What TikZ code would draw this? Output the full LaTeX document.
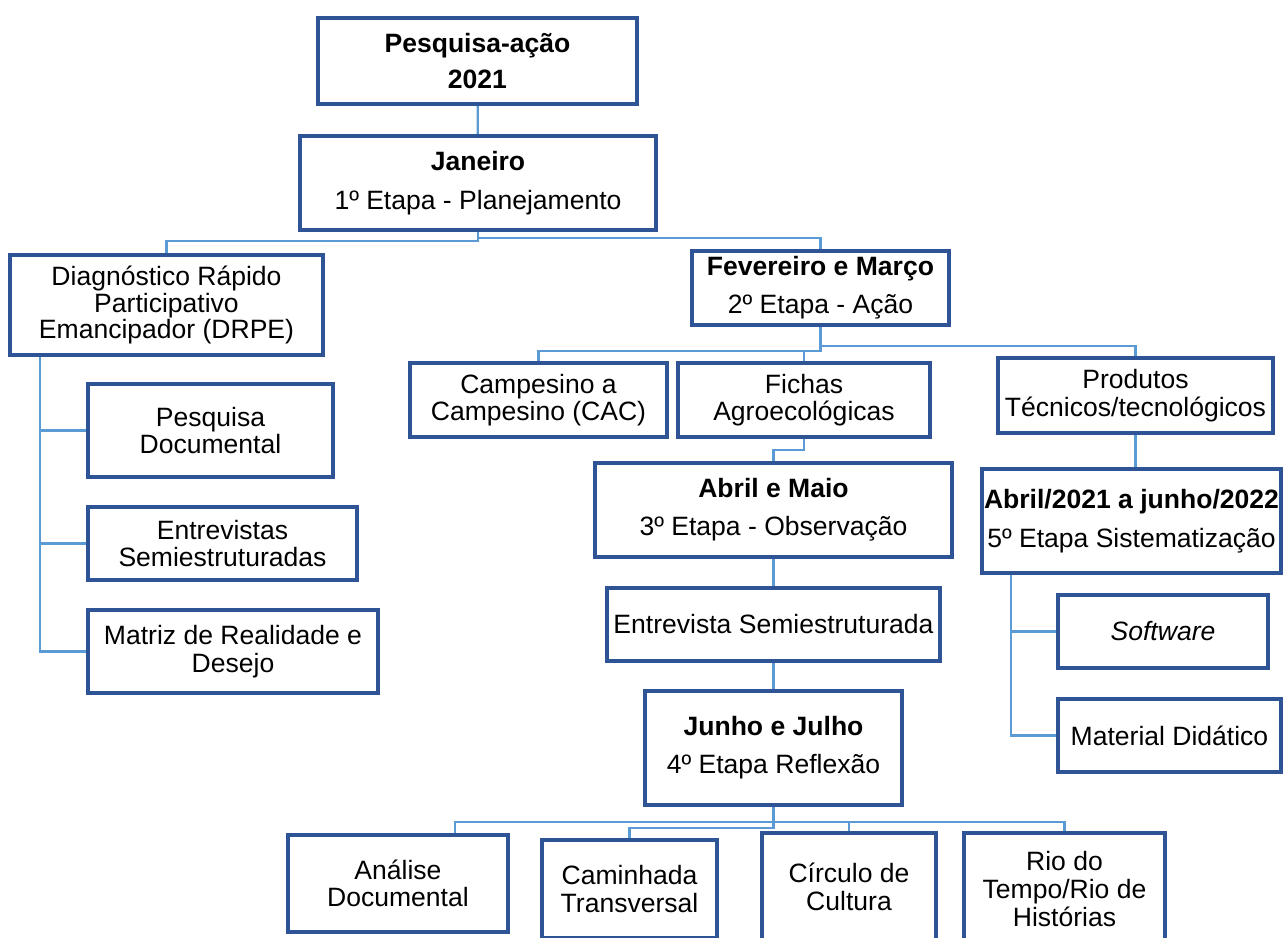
\documentclass[tikz,border=0pt]{standalone}
\usepackage{fontspec}
\setmainfont{Liberation Sans}
\usepackage{tikz}
\usetikzlibrary{backgrounds}
\definecolor{borda}{RGB}{47,84,150}
\definecolor{linha}{RGB}{91,155,213}

\begin{document}
\begin{tikzpicture}[x=0.75pt,y=-0.75pt,
  caixa/.style 2 args={draw=borda,line width=2.6pt,fill=white,align=center,inner sep=1pt,
    minimum width=#1*0.75pt,minimum height=#2*0.75pt},
  liga/.style={draw=linha,line width=1.6pt},
  font=\fontsize{19.9}{20.7}\selectfont]
\clip (0,0) rectangle (1283,938);
\node[caixa={319}{86}] (topo) at (477.5,61) {\textbf{Pesquisa-ação}\\[6.5pt]\textbf{2021}};
\node[caixa={356}{94}] (jan) at (478,183) {\textbf{Janeiro}\\[8.5pt]1º Etapa - Planejamento};
\node[caixa={313}{100},font=\fontsize{19.9}{18}\selectfont] (diag) at (166.5,305) {Diagnóstico Rápido\\Participativo\\Emancipador (DRPE)};
\node[caixa={245}{93}] (pesq) at (210.5,430.5) {Pesquisa\\Documental};
\node[caixa={269}{73}] (entr) at (222.5,543.5) {Entrevistas\\Semiestruturadas};
\node[caixa={290}{83}] (matr) at (233,651.5) {Matriz de Realidade e\\Desejo};
\node[caixa={257}{74}] (fev) at (820.5,288) {\textbf{Fevereiro e Março}\\[8pt]2º Etapa - Ação};
\node[caixa={257}{74}] (cac) at (538.5,400) {Campesino a\\Campesino (CAC)};
\node[caixa={252}{74}] (fich) at (804,400) {Fichas\\Agroecológicas};
\node[caixa={275}{75}] (prod) at (1135.5,395.5) {Produtos\\Técnicos/tecnológicos};
\node[caixa={357}{94}] (abr) at (773.5,510) {\textbf{Abril e Maio}\\[8pt]3º Etapa - Observação};
\node[caixa={333}{73}] (entrev) at (773.5,624.5) {Entrevista Semiestruturada};
\node[caixa={257}{114}] (jun) at (773.5,748) {\textbf{Junho e Julho}\\[8pt]4º Etapa Reflexão};
\node[caixa={299}{104}] (sist) at (1131.5,521) {\textbf{Abril/2021 a junho/2022}\\[8.5pt]5º Etapa Sistematização};
\node[caixa={210}{73}] (soft) at (1163,631.5) {\textit{Software}};
\node[caixa={223}{73}] (mat) at (1169.5,735.5) {Material Didático};
\node[caixa={220}{97}] (anal) at (398,883.5) {Análise\\Documental};
\node[caixa={175}{98}] (cam) at (629.5,889) {Caminhada\\Transversal};
\node[caixa={174}{108}] (circ) at (849,887) {Círculo de\\Cultura};
\node[caixa={201}{112}] (rio) at (1064.5,889) {Rio do\\Tempo/Rio de\\Histórias};
\begin{scope}[on background layer]
\draw[liga] (topo) -- (jan);
\draw[liga] (jan.south) -- ++(0,9) -| (diag.north);
\draw[liga] (jan.south) -- ++(0,6) -| (fev.north);
\foreach \filho in {pesq,entr,matr}
  \draw[liga] ([xshift=24pt]diag.south west) |- (\filho.west);
\draw[liga] (fev.south) -- ++(0,19) -| (prod.north);
\foreach \filho in {cac,fich}
  \draw[liga] (fev.south) -- ++(0,24) -| (\filho.north);
\draw[liga] (fich.south) -- ++(0,11) -| (abr.north);
\draw[liga] (abr) -- (entrev);
\draw[liga] (entrev) -- (jun);
\draw[liga] (prod.south) -- (prod.south |- sist.north);
\foreach \filho in {soft,mat}
  \draw[liga] ([xshift=23pt]sist.south west) |- (\filho.west);
\draw[liga] (jun.south) -- ++(0,15) -| ([xshift=42.75pt]anal.north);
\foreach \filho in {circ,rio}
  \draw[liga] (jun.south) -- ++(0,15) -| (\filho.north);
\draw[liga] (jun.south) -- ++(0,21) -| (cam.north);
\end{scope}
\end{tikzpicture}
\end{document}
